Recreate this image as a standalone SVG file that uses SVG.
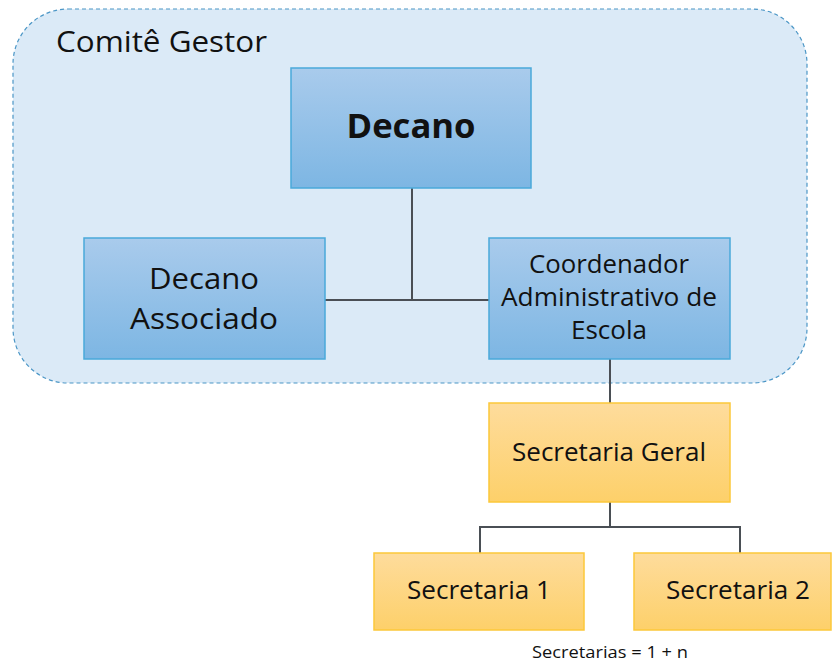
<svg xmlns="http://www.w3.org/2000/svg" width="832" height="663" viewBox="0 0 832 663">
<defs>
<linearGradient id="gBlue" x1="0" y1="0" x2="0" y2="1">
<stop offset="0" stop-color="#a9cbec"/>
<stop offset="1" stop-color="#7db6e3"/>
</linearGradient>
<linearGradient id="gOrange" x1="0" y1="0" x2="0" y2="1">
<stop offset="0" stop-color="#fedc9c"/>
<stop offset="1" stop-color="#fdd06a"/>
</linearGradient>
<style>
text{font-family:"Open Sans","Liberation Sans",sans-serif;fill:#111;text-anchor:middle}
.blue{fill:url(#gBlue);stroke:#4aa9da;stroke-width:1.5}
.orange{fill:url(#gOrange);stroke:#fcc83a;stroke-width:1.5}
.conn{fill:none;stroke:#4a4f55;stroke-width:2}
</style>
</defs>
<rect width="832" height="663" fill="#ffffff"/>
<g id="comite">
<rect x="13" y="9" width="794" height="374" rx="55" ry="55" fill="#dbeaf7" stroke="#4b96c6" stroke-width="1.2" stroke-dasharray="4,3"/>
<text x="56" y="52" style="text-anchor:start;font-size:30px" textLength="211" lengthAdjust="spacingAndGlyphs">Comitê Gestor</text>
</g>
<g id="connectors">
<path class="conn" d="M412 188 V300 M325 300 H489"/>
<path class="conn" d="M610 359 V403"/>
<path class="conn" d="M610 502 V527 M480 553 V527 H740 V553"/>
</g>
<g id="decano">
<rect class="blue" x="291" y="68" width="240" height="120"/>
<text x="411" y="138" style="font-size:34px;font-weight:bold" textLength="129" lengthAdjust="spacingAndGlyphs">Decano</text>
</g>
<g id="decano-associado">
<rect class="blue" x="84" y="238" width="241" height="121"/>
<text x="204" y="289" style="font-size:30px" textLength="110" lengthAdjust="spacingAndGlyphs">Decano</text>
<text x="204" y="329" style="font-size:30px" textLength="148" lengthAdjust="spacingAndGlyphs">Associado</text>
</g>
<g id="coordenador">
<rect class="blue" x="489" y="238" width="241" height="121"/>
<text x="609" y="273" style="font-size:25px" textLength="160" lengthAdjust="spacingAndGlyphs">Coordenador</text>
<text x="609" y="306" style="font-size:25px" textLength="216" lengthAdjust="spacingAndGlyphs">Administrativo de</text>
<text x="609" y="339" style="font-size:25px" textLength="76" lengthAdjust="spacingAndGlyphs">Escola</text>
</g>
<g id="secretaria-geral">
<rect class="orange" x="489" y="403" width="241" height="99"/>
<text x="609" y="461" style="font-size:25px" textLength="194" lengthAdjust="spacingAndGlyphs">Secretaria Geral</text>
</g>
<g id="secretaria-1">
<rect class="orange" x="374" y="553" width="210" height="77"/>
<text x="479" y="599" style="font-size:25px" textLength="144" lengthAdjust="spacingAndGlyphs">Secretaria 1</text>
</g>
<g id="secretaria-2">
<rect class="orange" x="634" y="553" width="197" height="77"/>
<text x="738" y="599" style="font-size:25px" textLength="144" lengthAdjust="spacingAndGlyphs">Secretaria 2</text>
</g>
<text x="610" y="658" style="font-size:16px" textLength="156" lengthAdjust="spacingAndGlyphs">Secretarias = 1 + n</text>
</svg>
